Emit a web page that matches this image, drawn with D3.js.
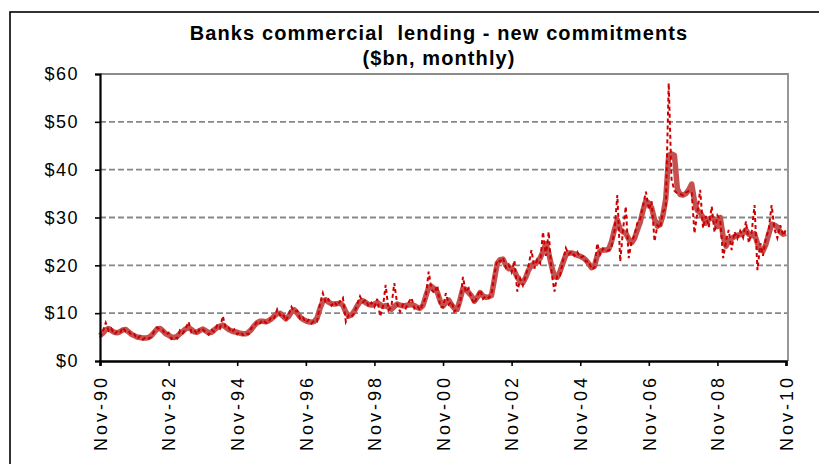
<!DOCTYPE html>
<html>
<head>
<meta charset="utf-8">
<script src="https://cdn.jsdelivr.net/npm/d3@7"></script>
<style>
  html, body { margin: 0; padding: 0; background: #fff; }
  svg { display: block; font-family: "Liberation Sans", Arial, sans-serif; }
</style>
</head>
<body>
<svg id="chart" width="819" height="464"></svg>
<script>
// Monthly series, Nov-1990 .. Nov-2010 ($bn)
const startMonth = new Date(1990, 10, 1);

// New commitments, monthly
const monthly = [
  4.9, 6.2, 8.0, 6.3, 6.8, 5.6, 6.1, 5.8, 7.0, 6.2, 6.3, 5.4,
  5.6, 4.6, 5.2, 4.5, 5.0, 4.7, 5.0, 6.3, 7.0, 6.5, 6.4, 5.5,
  5.9, 4.6, 5.0, 4.7, 6.4, 5.8, 6.8, 8.2, 6.0, 6.4, 5.6, 6.9,
  6.6, 6.0, 5.5, 6.5, 6.1, 7.4, 6.8, 9.4, 6.9, 7.0, 6.0, 6.6,
  5.6, 6.1, 5.4, 5.9, 5.6, 6.9, 7.2, 8.3, 7.9, 8.6, 8.0, 8.0,
  9.3, 9.0, 10.8, 9.6, 9.9, 8.4, 9.6, 11.3, 10.3, 10.5, 8.8, 9.1,
  8.0, 8.6, 7.9, 8.5, 8.3, 12.0, 14.2, 12.2, 12.9, 11.6, 12.4, 11.5,
  12.5, 13.2, 8.2, 9.6, 9.3, 10.0, 11.8, 13.5, 12.3, 12.8, 11.4, 12.2,
  11.3, 13.0, 9.3, 11.5, 15.9, 10.6, 11.4, 16.3, 12.0, 10.3, 11.8, 11.0,
  12.3, 13.2, 11.0, 11.5, 10.6, 12.0, 13.3, 18.7, 14.9, 14.2, 15.8, 11.3,
  11.2, 14.2, 11.8, 12.4, 10.3, 11.0, 12.0, 17.6, 14.4, 15.2, 13.0, 12.0,
  13.6, 14.8, 13.0, 13.6, 13.2, 13.9, 18.0, 21.1, 20.8, 21.6, 19.5, 20.2,
  18.6, 21.0, 14.5, 17.2, 15.8, 17.9, 20.0, 23.2, 19.3, 21.2, 20.4, 27.0,
  22.0, 27.0, 18.4, 14.5, 18.0, 17.9, 21.0, 23.6, 22.3, 22.9, 22.0, 22.8,
  21.6, 21.9, 20.8, 20.8, 19.2, 19.5, 24.6, 22.3, 23.5, 23.0, 23.1, 23.8,
  27.3, 34.7, 20.8, 27.8, 32.3, 21.5, 25.0, 26.2, 28.8, 29.6, 32.5, 35.4,
  31.6, 33.4, 25.0, 28.4, 27.8, 31.2, 32.0, 58.1, 38.0, 35.6, 35.0, 34.9,
  34.6, 35.2, 35.5, 35.3, 26.7, 31.0, 35.8, 27.8, 30.3, 28.0, 32.3, 26.9,
  30.4, 29.4, 21.5, 25.2, 27.4, 23.2, 27.0, 25.6, 27.2, 25.8, 29.2, 24.7,
  27.0, 32.6, 19.0, 24.6, 22.0, 25.8, 27.5, 32.6, 27.6, 25.7, 28.4, 26.2,
  27.5
];

// Smoothed trend
const trend = [
  5.3, 5.8, 6.5, 6.8, 6.4, 6.0, 5.9, 6.1, 6.5, 6.6, 6.1, 5.6,
  5.3, 5.0, 4.9, 4.8, 4.8, 4.9, 5.3, 6.0, 6.7, 6.8, 6.3, 5.7,
  5.4, 5.0, 4.9, 5.2, 5.7, 6.2, 6.7, 7.0, 6.6, 6.1, 6.0, 6.4,
  6.7, 6.3, 5.9, 6.0, 6.5, 7.0, 7.3, 7.5, 7.1, 6.6, 6.3, 6.1,
  6.0, 5.8, 5.7, 5.7, 6.0, 6.6, 7.4, 8.0, 8.3, 8.3, 8.2, 8.4,
  8.8, 9.4, 9.9, 10.0, 9.4, 8.8, 9.3, 10.3, 10.7, 10.0, 9.2, 8.7,
  8.4, 8.2, 8.1, 8.3, 9.0, 11.0, 12.5, 12.8, 12.3, 12.0, 11.9, 12.0,
  12.1, 11.6, 10.2, 9.4, 9.6, 10.4, 11.5, 12.4, 12.6, 12.2, 11.8, 11.7,
  11.9, 12.2, 11.8, 11.4, 11.6, 11.2, 10.8, 11.4, 11.9, 11.7, 11.5, 11.6,
  11.7, 11.8, 11.6, 11.2, 11.0, 11.6, 13.5, 15.4, 15.6, 15.1, 14.4, 12.6,
  11.5, 12.2, 12.7, 11.7, 11.0, 10.8, 12.8, 15.2, 15.0, 14.3, 13.6, 12.5,
  13.3, 14.3, 13.6, 13.3, 13.4, 13.7, 17.0, 20.4, 21.2, 21.3, 20.0, 19.3,
  19.4, 18.8, 17.5, 16.6, 16.4, 17.5, 19.0, 20.0, 20.4, 20.7, 21.5, 22.9,
  24.5, 22.6, 19.8, 17.6, 17.5, 18.8, 20.5, 22.2, 22.6, 22.6, 22.4, 22.1,
  21.9, 21.6, 21.1, 20.3, 19.5, 19.8, 22.0, 23.0, 23.2, 23.2, 23.4, 25.0,
  27.5, 29.5, 27.5, 27.0, 26.7, 25.5, 24.7, 25.6, 27.3, 29.0, 31.5, 33.5,
  33.0, 32.0, 29.6, 28.2, 28.5, 30.5, 34.0, 43.0, 43.3, 43.0, 36.0, 34.8,
  34.7, 35.0, 35.8, 37.0, 33.5, 31.5, 31.0, 30.0, 28.8, 29.6, 30.0, 29.5,
  28.1, 30.0, 26.0, 24.0, 25.2, 25.6, 26.0, 26.3, 26.4, 26.7, 27.4, 26.5,
  26.2, 26.6, 24.6, 23.2, 23.0, 24.4, 26.5, 28.6, 28.4, 28.0, 27.0, 26.5,
  26.7
];

const yTicks = [0, 10, 20, 30, 40, 50, 60];
const xTickYears = [1990, 1992, 1994, 1996, 1998, 2000, 2002, 2004, 2006, 2008, 2010];
const titleLines = ["Banks commercial  lending - new commitments", "($bn, monthly)"];

const months = monthly.map((_, i) => d3.timeMonth.offset(startMonth, i));

const svg = d3.select("#chart");
const plot = { left: 100, right: 787, top: 74, bottom: 361 };

const x = d3.scaleTime()
  .domain([startMonth, new Date(2010, 10, 1)])
  .range([plot.left, plot.right - 1]);
const y = d3.scaleLinear().domain([0, 60]).range([plot.bottom, plot.top]);

// outer frame
svg.append("rect")
  .attr("x", 10).attr("y", 12).attr("width", 840).attr("height", 480)
  .attr("fill", "none").attr("stroke", "#000").attr("stroke-width", 1.6);

// title
const title = svg.append("text")
  .attr("text-anchor", "middle")
  .attr("font-weight", "bold")
  .attr("font-size", 20)
  .attr("letter-spacing", 1.1)
  .attr("fill", "#000")
  .style("white-space", "pre");
titleLines.forEach((t, i) => {
  title.append("tspan").attr("x", 439).attr("y", 40 + i * 25).text(t);
});

// gridlines
svg.append("g")
  .selectAll("line")
  .data(yTicks.filter(v => v > 0 && v < 60))
  .join("line")
  .attr("x1", plot.left).attr("x2", plot.right)
  .attr("y1", d => y(d)).attr("y2", d => y(d))
  .attr("stroke", "#888").attr("stroke-width", 1.8)
  .attr("stroke-dasharray", "6,3");

// plot border (top and right)
svg.append("path")
  .attr("d", `M${plot.left},${y(60)}H${plot.right + 1}V${plot.bottom}`)
  .attr("fill", "none").attr("stroke", "#8c8c8c").attr("stroke-width", 1.8);

// series
const seriesLine = d3.line()
  .x((d, i) => x(months[i]))
  .y(d => y(d));

svg.append("path")
  .datum(trend)
  .attr("d", seriesLine)
  .attr("fill", "none")
  .attr("stroke", "#c55050")
  .attr("stroke-width", 5.5)
  .attr("stroke-linejoin", "round");

svg.append("path")
  .datum(monthly)
  .attr("d", seriesLine)
  .attr("fill", "none")
  .attr("stroke", "#cc0000")
  .attr("stroke-width", 2)
  .attr("stroke-dasharray", "4,3");

// y axis
const yAxis = svg.append("g")
  .attr("transform", `translate(${plot.left},0)`)
  .call(d3.axisLeft(y).tickValues(yTicks).tickSize(5).tickPadding(16)
    .tickFormat(d => "$" + d));
yAxis.select(".domain").attr("stroke", "#000").attr("stroke-width", 2.2);
yAxis.selectAll(".tick line").attr("stroke", "#000").attr("stroke-width", 1.6);
yAxis.selectAll(".tick text")
  .attr("font-size", 18)
  .attr("font-family", "Liberation Sans, Arial, sans-serif")
  .attr("letter-spacing", 1.5)
  .attr("fill", "#000");

// x axis
const xTicks = xTickYears.map(yr => new Date(yr, 10, 1));
const xAxis = svg.append("g")
  .attr("transform", `translate(0,${plot.bottom})`)
  .call(d3.axisBottom(x).tickValues(xTicks).tickSize(5)
    .tickFormat(d3.timeFormat("%b-%y")));
xAxis.select(".domain").attr("stroke", "#000").attr("stroke-width", 2.6);
xAxis.selectAll(".tick line").attr("stroke", "#000").attr("stroke-width", 1.6);
xAxis.selectAll(".tick text")
  .attr("font-size", 18)
  .attr("font-family", "Liberation Sans, Arial, sans-serif")
  .attr("letter-spacing", 3)
  .attr("fill", "#000")
  .attr("text-anchor", "end")
  .attr("transform", "rotate(-90)")
  .attr("x", -14)
  .attr("y", 0)
  .attr("dy", "0.35em");
</script>
</body>
</html>
